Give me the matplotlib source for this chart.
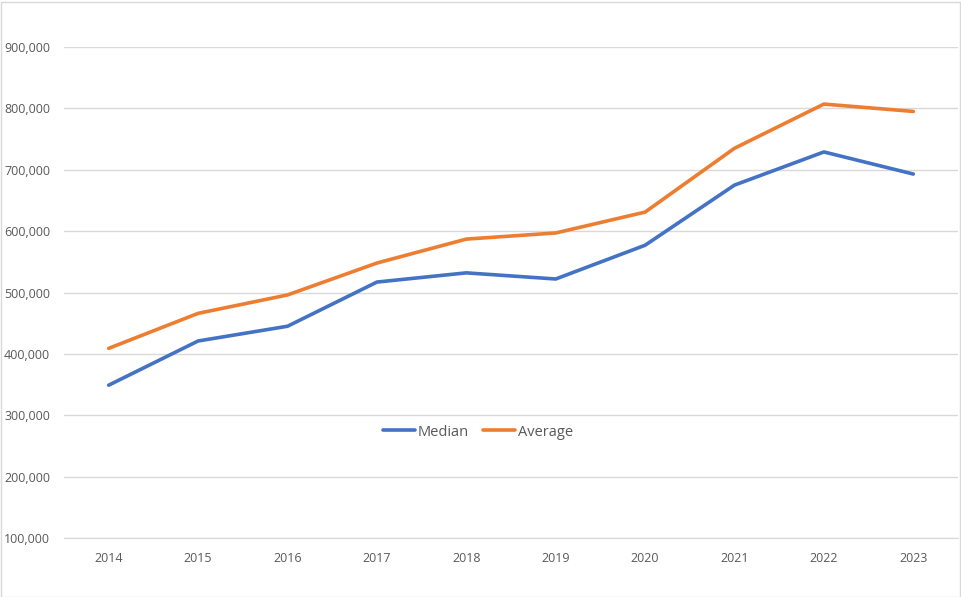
import matplotlib
matplotlib.use("Agg")
import matplotlib.pyplot as plt
from matplotlib.ticker import FuncFormatter
from matplotlib.patches import Rectangle

years = ["2014", "2015", "2016", "2017", "2018", "2019", "2020", "2021", "2022", "2023"]
median = [349000, 421000, 445000, 517000, 532000, 522000, 577000, 675000, 729000, 693000]
average = [409000, 466000, 496000, 548000, 587000, 597000, 631000, 735000, 807000, 795000]
yticks = [100000, 200000, 300000, 400000, 500000, 600000, 700000, 800000, 900000]

plt.rcParams['font.family'] = ['Open Sans', 'DejaVu Sans']

W, H = 961, 597
fig = plt.figure(figsize=(W / 100, H / 100), dpi=100)
fig.patch.set_facecolor('white')

left, right, top, bottom = 64, 958, 47, 538
ax = fig.add_axes([left / W, 1 - bottom / H, (right - left) / W, (bottom - top) / H])

x = list(range(len(years)))
ax.plot(x, median, color='#4472C4', lw=2.6, label='Median', solid_capstyle='round')
ax.plot(x, average, color='#ED7D31', lw=2.6, label='Average', solid_capstyle='round')

ax.set_xlim(-0.5, len(years) - 0.5)
ax.set_ylim(100000, 900000)
ax.set_yticks(yticks)
ax.yaxis.set_major_formatter(FuncFormatter(lambda v, p: f"{int(v):,}"))
ax.set_xticks(x)
ax.set_xticklabels(years)
ax.grid(axis='y', color='#D9D9D9', lw=1)
ax.set_axisbelow(True)
for s in ['top', 'right', 'left']:
    ax.spines[s].set_visible(False)
ax.spines['bottom'].set_color('#D9D9D9')
ax.tick_params(axis='both', length=0, colors='#595959', labelsize=9)
ax.tick_params(axis='y', pad=10)
ax.tick_params(axis='x', pad=10)

leg = fig.legend(loc='center', bbox_to_anchor=(478 / W, 1 - 432 / H), ncol=2, frameon=False,
                 fontsize=10.5, handlelength=2.2, columnspacing=1.0, handletextpad=0.2)
for t in leg.get_texts():
    t.set_color('#595959')

fig.patches.append(Rectangle((0.5 / W, 0.5 / H), 1 - 2 / W, 1 - 2 / H, transform=fig.transFigure,
                             fill=False, edgecolor='#D9D9D9', lw=1))

fig.savefig('out.png', dpi=100)
